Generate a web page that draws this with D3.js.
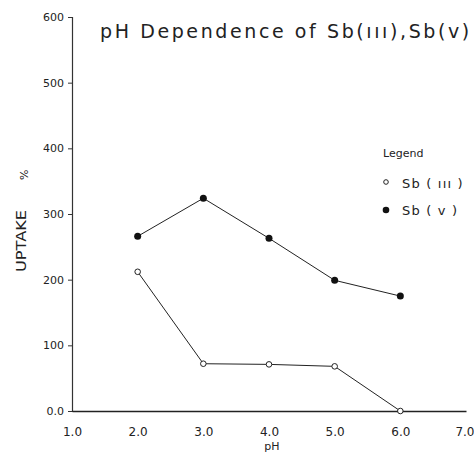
<!DOCTYPE html>
<html><head><meta charset="utf-8">
<script src="https://cdn.jsdelivr.net/npm/d3@7"></script>
<style>body{margin:0;background:#fff}svg{display:block}text{font-family:"DejaVu Sans",sans-serif;fill:#222}</style>
</head><body>
<script>
const pH = [2.0, 3.0, 4.0, 5.0, 6.0];
const sbIII = [212, 72, 71, 68, 0];
const sbV = [266, 324, 263, 199, 175];
const xTicks = [1.0, 2.0, 3.0, 4.0, 5.0, 6.0, 7.0];
const xTickLabels = ["1.0", "2.0", "3.0", "4.0", "5.0", "6.0", "7.0"];
const yTicks = [0, 100, 200, 300, 400, 500, 600];
const yTickLabels = ["0.0", "100", "200", "300", "400", "500", "600"];

const W = 474, H = 464;
const svg = d3.select("body").append("svg").attr("width", W).attr("height", H);
const x = d3.scaleLinear().domain([1, 7]).range([72, 466]);
const y = d3.scaleLinear().domain([0, 600]).range([411, 17]);

// y axis
const ya = svg.append("g").attr("transform", `translate(${x(1)},0)`)
  .call(d3.axisLeft(y).tickValues(yTicks).tickFormat((d, i) => yTickLabels[i]).tickSize(4).tickPadding(4));
ya.select(".domain").attr("stroke", "#333").attr("stroke-width", 1.2);
ya.selectAll(".tick line").attr("stroke", "#333");
ya.selectAll(".tick text").attr("font-size", 11).attr("fill", "#444").style("font-family", "DejaVu Sans");

// x axis
const xa = svg.append("g").attr("transform", `translate(0,${y(0)})`)
  .call(d3.axisBottom(x).tickValues(xTicks).tickFormat((d, i) => xTickLabels[i]).tickSize(0).tickPadding(16));
xa.select(".domain").attr("stroke", "#222").attr("stroke-width", 1.5);
xa.selectAll(".tick text").attr("font-size", 12).attr("fill", "#333").style("font-family", "DejaVu Sans");
xa.selectAll(".tick:last-of-type text").attr("text-anchor", "end").attr("dx", 8);

// lines
const line = d3.line().x((d, i) => x(pH[i])).y(d => y(d));
svg.append("path").datum(sbV).attr("d", line).attr("fill", "none").attr("stroke", "#222").attr("stroke-width", 1);
svg.append("path").datum(sbIII).attr("d", line).attr("fill", "none").attr("stroke", "#222").attr("stroke-width", 1);
svg.selectAll(".pv").data(sbV).enter().append("circle")
  .attr("cx", (d, i) => x(pH[i])).attr("cy", d => y(d)).attr("r", 3.5).attr("fill", "#111");
svg.selectAll(".piii").data(sbIII).enter().append("circle")
  .attr("cx", (d, i) => x(pH[i])).attr("cy", d => y(d)).attr("r", 2.8).attr("fill", "#fff").attr("stroke", "#222").attr("stroke-width", 1);

// title
svg.append("text").attr("x", 100).attr("y", 38).attr("font-size", 19).attr("letter-spacing", 2.6)
  .attr("fill", "#222").text("pH Dependence of Sb(ııı),Sb(v)");

// axis labels
svg.append("text").attr("transform", "translate(26,272) rotate(-90)").attr("font-size", 14)
  .attr("textLength", 62).attr("lengthAdjust", "spacingAndGlyphs").text("UPTAKE");
svg.append("text").attr("transform", "translate(28,180) rotate(-90)").attr("font-size", 11).attr("fill", "#555").text("%");
svg.append("text").attr("x", 272).attr("y", 450).attr("font-size", 11).attr("text-anchor", "middle").attr("fill", "#555").text("pH");

// legend
svg.append("text").attr("x", 383).attr("y", 157).attr("font-size", 11).attr("fill", "#555").text("Legend");
svg.append("circle").attr("cx", 386).attr("cy", 182).attr("r", 2.3).attr("fill", "#fff").attr("stroke", "#222");
svg.append("text").attr("x", 402).attr("y", 188).attr("font-size", 13).attr("letter-spacing", 1.2).attr("fill", "#333").text("Sb ( ııı )");
svg.append("circle").attr("cx", 386).attr("cy", 210).attr("r", 3.3).attr("fill", "#111");
svg.append("text").attr("x", 402).attr("y", 215).attr("font-size", 13).attr("letter-spacing", 1.2).attr("fill", "#333").text("Sb ( v )");
</script>
</body></html>
